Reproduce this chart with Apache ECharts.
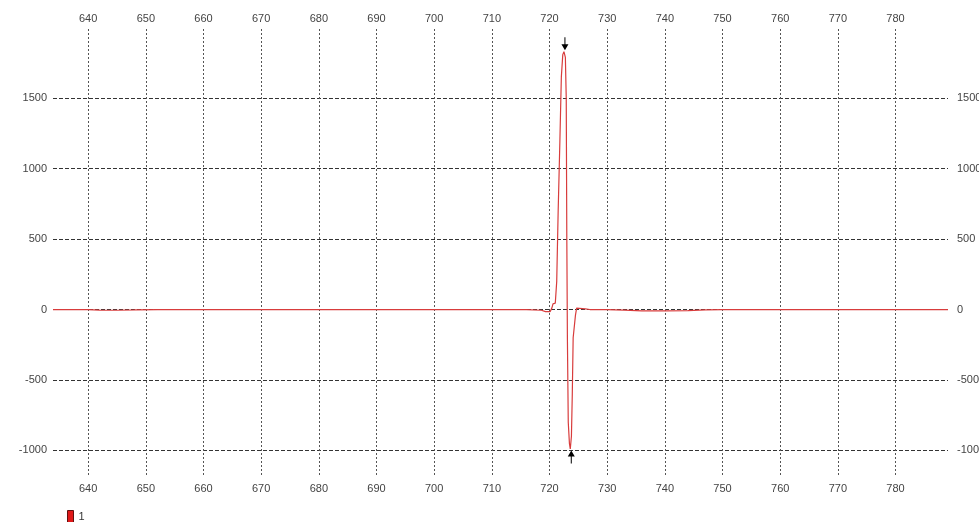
<!DOCTYPE html>
<html>
<head>
<meta charset="utf-8">
<script src="https://cdn.jsdelivr.net/npm/echarts@6/dist/echarts.min.js"></script>
<style>html,body{margin:0;padding:0;background:#fff;}#c{width:979px;height:522px;}</style>
</head>
<body>
<div id="c"></div>
<script>
const seriesName = '1';
const xTicks = [640, 650, 660, 670, 680, 690, 700, 710, 720, 730, 740, 750, 760, 770, 780];
const yTicks = [-1000, -500, 0, 500, 1000, 1500];
const xRange = [633.9, 789.1];
const yRange = [-1175, 1992];
const times = [633.9, 640, 642, 645, 648, 652, 660, 670, 680, 690, 700, 710, 716, 718.6, 719.3, 720.1, 720.4, 720.6, 721.0, 721.25, 721.5, 721.8, 722.05, 722.3, 722.5, 722.75, 722.9, 723.0, 723.1, 723.25, 723.45, 723.6, 723.8, 723.95, 724.1, 724.5, 724.7, 724.95, 726.2, 727, 730, 733, 736, 740, 744, 747, 750, 760, 770, 780, 789.1];
const values = [0, 0, -4, -5, -3, 0, 0, 0, 0, 0, 0, 0, 0, -5, -15, -15, 10, 40, 45, 200, 700, 1200, 1650, 1810, 1831, 1790, 1500, 500, -200, -800, -950, -990, -900, -600, -200, -40, 10, 15, 5, 0, 0, -4, -9, -10, -8, -3, 0, 0, 0, 0, 0];

const data = times.map((t, i) => [t, values[i]]);
const labelFont = {color: '#444', fontFamily: 'Liberation Sans, Arial, sans-serif', fontSize: 11, formatter: v => String(v)};

const chart = echarts.init(document.getElementById('c'), null, {renderer: 'canvas'});
chart.setOption({
  animation: false,
  backgroundColor: '#fff',
  grid: {left: 53, right: 31, top: 29, bottom: 47, containLabel: false, outerBoundsMode: 'none'},
  legend: {
    left: 62, top: 505, itemWidth: 6, itemHeight: 12, itemGap: 4,
    textStyle: {color: '#333', fontSize: 11, fontFamily: 'Liberation Sans, Arial, sans-serif'},
    data: [{name: seriesName, icon: 'rect', itemStyle: {color: '#e01818', borderColor: '#601010', borderWidth: 1}}]
  },
  xAxis: [
    {type: 'value', position: 'bottom', min: xRange[0], max: xRange[1],
     axisLine: {show: false}, axisTick: {show: false, customValues: xTicks},
     axisLabel: Object.assign({customValues: xTicks, margin: 8}, labelFont),
     splitLine: {show: true, lineStyle: {color: '#555', width: 1, type: [2, 2]}}},
    {type: 'value', position: 'top', min: xRange[0], max: xRange[1],
     axisLine: {show: false}, axisTick: {show: false, customValues: xTicks},
     axisLabel: Object.assign({customValues: xTicks, margin: 5}, labelFont),
     splitLine: {show: false}}
  ],
  yAxis: [
    {type: 'value', position: 'left', min: yRange[0], max: yRange[1],
     axisLine: {show: false}, axisTick: {show: false, customValues: yTicks},
     axisLabel: Object.assign({customValues: yTicks, margin: 6}, labelFont),
     splitLine: {show: true, lineStyle: {color: '#333', width: 1, type: [4, 2]}}},
    {type: 'value', position: 'right', min: yRange[0], max: yRange[1],
     axisLine: {show: false}, axisTick: {show: false, customValues: yTicks},
     axisLabel: Object.assign({customValues: yTicks, margin: 9}, labelFont),
     splitLine: {show: false}}
  ],
  series: [{
    name: seriesName, type: 'line', data: data, showSymbol: false, symbol: 'none',
    lineStyle: {color: '#d83c3c', width: 1.2}, itemStyle: {color: '#e01818'},
    markPoint: {
      silent: true,
      label: {show: false},
      itemStyle: {color: '#000'},
      data: [
        {type: 'max', symbol: 'path://M3,0 L4,0 L4,7 L7,7 L3.5,13 L0,7 L3,7 Z', symbolSize: [7, 13], symbolOffset: [1, -8]},
        {type: 'min', symbol: 'path://M3.5,0 L7,6 L4,6 L4,13 L3,13 L3,6 L0,6 Z', symbolSize: [7, 13], symbolOffset: [1, 8]}
      ]
    }
  }]
});
</script>
</body>
</html>
